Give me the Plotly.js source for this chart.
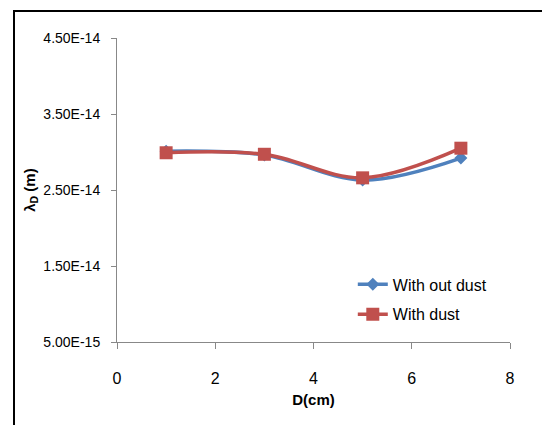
<!DOCTYPE html>
<html>
<head>
<meta charset="utf-8">
<script src="https://cdn.plot.ly/plotly-3.0.1.min.js"></script>
<style>
html,body{margin:0;padding:0;background:#fff;}
#wrap{position:relative;width:542px;height:425px;overflow:hidden;}
#chart{width:542px;height:425px;}
#frame{position:absolute;left:13px;top:10px;width:600px;height:500px;border-left:2px solid #000;border-top:2px solid #000;pointer-events:none;}
</style>
</head>
<body>
<div id="wrap"><div id="chart"></div><div id="frame"></div></div>
<script>
const xVals = [1, 3, 5, 7];
const withoutDust = [3.01e-14, 2.96e-14, 2.63e-14, 2.92e-14];
const withDust = [2.99e-14, 2.97e-14, 2.66e-14, 3.05e-14];
const seriesNames = ["With out dust", "With dust"];
const yTickVals = [5e-15, 1.5e-14, 2.5e-14, 3.5e-14, 4.5e-14];
const yTickText = ["5.00E-15", "1.50E-14", "2.50E-14", "3.50E-14", "4.50E-14"];
const xTickVals = [0, 2, 4, 6, 8];

const font = "Liberation Sans Narrow, Arial Narrow, Liberation Sans, Arial, sans-serif";

const traces = [
  {
    x: xVals, y: withoutDust, name: seriesNames[0], type: "scatter", mode: "lines+markers",
    legendgroup: "a",
    line: {color: "#4F81BD", width: 3.5, shape: "spline", smoothing: 1},
    marker: {symbol: "diamond", size: 10, color: "#4F81BD"}
  },
  {
    x: xVals, y: withDust, name: seriesNames[1], type: "scatter", mode: "lines+markers",
    legendgroup: "b",
    line: {color: "#C0504D", width: 3.5, shape: "spline", smoothing: 1},
    marker: {symbol: "square", size: 13, color: "#C0504D"}
  }
];

const layout = {
  width: 542, height: 425,
  margin: {l: 117, r: 32, t: 38, b: 83},
  paper_bgcolor: "#fff", plot_bgcolor: "#fff",
  font: {family: font, size: 14, color: "#000"},
  showlegend: true,
  legend: {x: 0.6, y: 0.14, xanchor: "left", yanchor: "middle", bgcolor: "rgba(0,0,0,0)",
           font: {family: font, size: 16, color: "#000"}, traceorder: "grouped", tracegroupgap: 6},
  xaxis: {
    range: [0, 8], tickvals: xTickVals, ticks: "outside", ticklen: 6, tickcolor: "#888",
    showline: true, linecolor: "#888", linewidth: 1, showgrid: false, zeroline: false,
    ticklabelstandoff: 16, tickfont: {family: font, size: 16},
    title: {text: "<b>D(cm)</b>", font: {family: font, size: 15}, standoff: 8}
  },
  yaxis: {
    range: [5e-15, 4.5e-14], tickvals: yTickVals, ticktext: yTickText,
    ticks: "outside", ticklen: 5, tickcolor: "#888",
    showline: true, linecolor: "#888", linewidth: 1, showgrid: false, zeroline: false,
    ticklabelstandoff: 8, tickfont: {family: font, size: 14},
    title: {text: "<b>λ<sub>D</sub> (m)</b>", font: {family: font, size: 15}, standoff: 4}
  }
};

Plotly.newPlot("chart", traces, layout, {displayModeBar: false, staticPlot: true});
</script>
</body>
</html>
